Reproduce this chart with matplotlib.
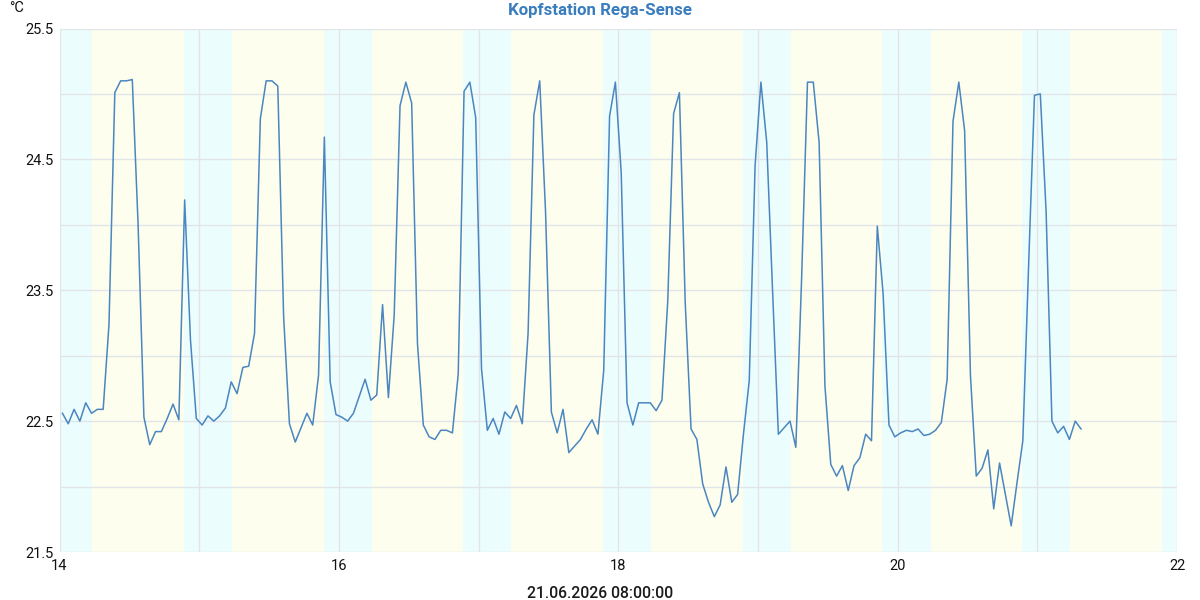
import numpy as np
import matplotlib.pyplot as plt

plt.rcParams['font.family'] = ['Roboto', 'DejaVu Sans']

# hourly readings, first at 14.06. 00:30
temps = [
    22.56, 22.48, 22.59, 22.50, 22.64, 22.56, 22.59, 22.59, 23.24, 25.01,
    25.10, 25.10, 25.11, 24.00, 22.53, 22.32, 22.42, 22.42, 22.52, 22.63,
    22.51, 24.19, 23.12, 22.52, 22.47, 22.54, 22.50, 22.54, 22.60, 22.80,
    22.71, 22.91, 22.92, 23.17, 24.81, 25.10, 25.10, 25.06, 23.30, 22.48,
    22.34, 22.45, 22.56, 22.47, 22.85, 24.67, 22.80, 22.55, 22.53, 22.50,
    22.56, 22.69, 22.82, 22.66, 22.70, 23.39, 22.68, 23.31, 24.91, 25.09,
    24.93, 23.09, 22.47, 22.38, 22.36, 22.43, 22.43, 22.41, 22.86, 25.02,
    25.09, 24.82, 22.90, 22.43, 22.52, 22.40, 22.57, 22.52, 22.62, 22.48,
    23.17, 24.84, 25.10, 24.10, 22.57, 22.41, 22.59, 22.26, 22.31, 22.36,
    22.44, 22.51, 22.40, 22.89, 24.83, 25.09, 24.40, 22.64, 22.47, 22.64,
    22.64, 22.64, 22.58, 22.66, 23.42, 24.85, 25.01, 23.40, 22.44, 22.36,
    22.02, 21.88, 21.77, 21.86, 22.15, 21.88, 21.94, 22.40, 22.81, 24.45,
    25.09, 24.63, 23.50, 22.40, 22.45, 22.50, 22.30, 23.60, 25.09, 25.09,
    24.63, 22.77, 22.17, 22.08, 22.16, 21.97, 22.16, 22.22, 22.40, 22.35,
    23.99, 23.47, 22.47, 22.38, 22.41, 22.43, 22.42, 22.44, 22.39, 22.40,
    22.43, 22.49, 22.82, 24.79, 25.09, 24.72, 22.85, 22.08, 22.14, 22.28,
    21.83, 22.18, 21.94, 21.70, 22.03, 22.35, 23.70, 24.99, 25.00, 24.10,
    22.50, 22.41, 22.46, 22.36, 22.50, 22.44,
]
t = 14 + (np.arange(len(temps)) + 0.5) / 24

# night periods (day of month, fractional)
night_start = [14.0, 14.89, 15.89, 16.89, 17.89, 18.89, 19.89, 20.89, 21.895]
night_end = [14.235, 15.235, 16.235, 17.235, 18.235, 19.235, 20.235, 21.235, 22.0]

fig = plt.figure(figsize=(12, 6), dpi=100)
ax = fig.add_axes([0.0496, 0.08, 0.9313, 0.8725])

ax.axvspan(14, 22, color='#fefeef', lw=0, zorder=0)
for a, b in zip(night_start, night_end):
    ax.axvspan(a, b, color='#ecfdfe', lw=0, zorder=0)

ax.plot(t, temps, color='#4a86bf', lw=1.1, zorder=3)

ax.set_xlim(14, 22)
ax.set_ylim(21.5, 25.5)
ax.set_xticks([14, 16, 18, 20, 22])
ax.set_xticks([15, 17, 19, 21], minor=True)
ax.set_yticks([21.5, 22.5, 23.5, 24.5, 25.5])
ax.set_yticks([22, 23, 24, 25], minor=True)
ax.grid(True, which='both', color='#e2e5e8', lw=1, zorder=1)
ax.set_axisbelow(True)
ax.tick_params(which='both', length=0, labelsize=10.5, colors='#111111')
ax.tick_params(axis='x', pad=5)
ax.tick_params(axis='y', pad=4)
for s in ax.spines.values():
    s.set_visible(False)

fig.text(0.5, 0.982, 'Kopfstation Rega-Sense', ha='center', va='center',
         fontsize=12.2, fontweight='bold', color='#3a7dbf')
fig.text(0.008, 0.986, '°C', ha='left', va='center', fontsize=10.5, color='#111111')
fig.text(0.5, 0.011, '21.06.2026 08:00:00', ha='center', va='center',
         fontsize=11.3, fontweight='medium', color='#1a1a1a')

plt.savefig('out.png', dpi=100)
